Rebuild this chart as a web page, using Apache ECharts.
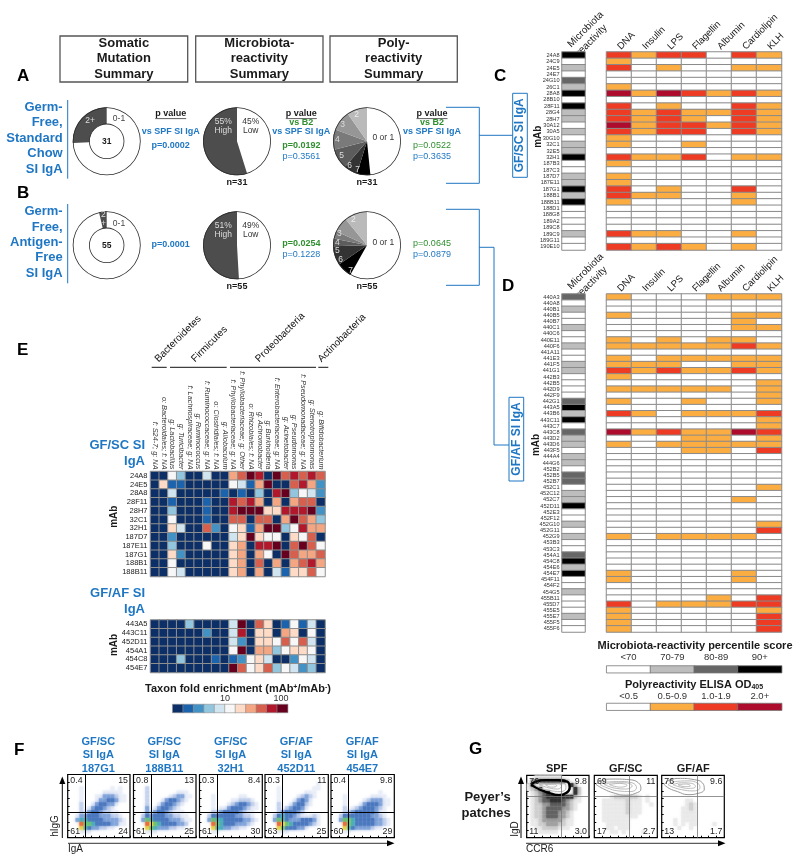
<!DOCTYPE html>
<html><head><meta charset="utf-8">
<style>html,body{margin:0;padding:0;background:#fff}#c{width:800px;height:862px}</style>
<script src="https://cdn.jsdelivr.net/npm/echarts@6/dist/echarts.min.js"></script>
</head><body><div id="c"></div>
<script>
const FONT='"Liberation Sans",Arial,sans-serif';
const BLUE='#1f77c4', GREEN='#2f8f2f', INK='#1a1a1a';

/* ---------- panels A and B: pies ---------- */
const mutationA=[['0-1',23],['2+',8]];
const mutationB=[['0-1',53],['2\n+',2]];
const microA=[['45%\nLow',14],['55%\nHigh',17]];
const microB=[['49%\nLow',27],['51%\nHigh',28]];
const polyA=[['0 or 1',15],['7',2],['6',2],['5',3],['4',3],['3',3],['2',3]];
const polyB=[['0 or 1',32],['7',4],['6',5],['5',2],['4',2],['3',4],['2',6]];
const polyShades=['#ffffff','#000000','#333333','#5c5c5c','#7a7a7a','#969696','#bababa'];

/* ---------- panel C ---------- */
const antigens=['DNA','Insulin','LPS','Flagellin','Albumin','Cardiolipin','KLH'];
const mabC=['24A8','24C9','24E5','24E7','24G10','26C1','28A8','28B10','28F11','28G4','28H7','30A12','30A5','30G10','32C1','32E5','32H1','187B3','187C3','187D7','187E11','187G1','188B1','188B11','188D1','188G8','189A2','189C8','189C9','189G11','190E10'];
const microC=[3,0,1,0,2,1,3,0,3,1,1,0,1,0,1,1,3,0,0,1,1,3,1,3,0,0,0,0,1,0,0];
const polyC=['2122021','1000000','2010011','0000000','0000000','1000000','3132121','0000000','2010021','2121121','2121021','3122121','2122021','1000000','1001000','0000000','2112011','1000000','0000000','1000000','1000000','2010020','2110010','1000010','0000000','0000000','0000000','0000000','2110010','0000000','2121010'];

/* ---------- panel D ---------- */
const mabD=['440A3','440A8','440B1','440B5','440B7','440C1','440C6','440E11','440F6','441A11','441E3','441F5','441G1','442B3','442B5','442D9','442F9','442G1','443A5','443B6','443C11','443C7','443C8','443D2','443D6','443F5','444A4','444G6','452B2','452B5','452B7','452C1','452C12','452C7','452D11','452E3','452F12','452G10','452G11','452G9','453B3','453C3','454A1','454C8','454E6','454E7','454F11','454F2','454G5','455B11','455D7','455E5','455E7','455F5','455F6'];
const microD=[2,0,1,0,0,1,0,0,1,0,0,1,1,0,0,0,0,2,3,1,3,0,2,1,1,0,1,1,0,2,2,0,1,1,3,0,0,1,0,1,0,0,2,3,1,3,0,0,1,0,0,0,1,0,0];
const polyD=['1000111','0000000','0000000','1000011','0000010','0000011','0000000','1010110','1111121','0000000','1011111','1110011','2121121','1000000','0000001','1111101','0000001','1001001','0000000','2101112','0000001','0000001','3121132','0001101','1011111','0001102','0000000','0000000','0000000','0000000','0000000','0000001','0000000','0000010','0000000','0000000','0000000','0000001','0000002','1011110','0000000','0000000','0000000','0000000','0000000','1000010','1000010','0000000','0000000','0000102','2011122','1000001','1000002','1000002','1000002'];

/* ---------- panel E ---------- */
const taxa=['f: S24-7; g: NA','o: Bacteroidales; f: NA','g: Lactobacillus','g: Turicibacter','f: Lachnospiraceae; g: NA','g: Ruminococcus','f: Ruminococcaceae; g: NA','o: Clostridiales; f: NA','g: Allobaculum','f: Phyllobacteriaceae; g: NA','f: Phyllobacteriaceae; g: Other','o: Rhizobiales; f: NA','g: Achromobacter','g: Burkholderia','f: Enterobacteriaceae; g: NA','g: Acinetobacter','g: Pseudomonas','f: Pseudomonadaceae; g: NA','g: Stenotrophomonas','g: Bifidobacterium'];
const mabE1=['24A8','24E5','28A8','28F11','28H7','32C1','32H1','187D7','187E11','187G1','188B1','188B11'];
const foldE1=[
[0,0,5,3,0,0,4,0,0,7,8,10,9,0,10,8,9,8,9,8],
[0,6,1,1,0,0,0,0,0,5,4,1,7,10,0,0,8,9,7,2],
[0,0,4,0,0,0,0,0,1,0,1,0,3,0,9,10,3,5,4,2],
[0,0,1,0,0,0,1,0,0,9,8,9,7,0,7,0,7,8,8,0],
[0,0,3,0,0,0,1,0,0,9,10,10,10,6,6,9,9,9,10,2],
[0,0,5,0,0,0,1,0,0,8,8,0,8,8,0,7,10,8,7,3],
[0,0,6,4,0,0,8,2,0,5,6,1,7,10,10,3,5,9,7,7],
[0,0,2,0,0,0,0,0,0,4,6,10,6,5,5,0,6,5,8,0],
[0,0,3,0,0,0,5,0,0,6,7,0,9,9,10,0,8,10,8,5],
[0,0,6,2,0,0,0,0,0,6,7,0,7,5,0,10,8,7,7,8],
[0,0,5,0,0,0,0,0,0,6,7,0,8,0,7,0,7,8,9,7],
[0,0,5,4,0,0,0,0,0,6,7,0,7,0,4,1,6,6,8,5]];
const mabE2=['443A5','443C11','452D11','454A1','454C8','454E7'];
const foldE2=[
[0,0,0,0,3,0,0,0,0,4,10,0,8,6,0,1,5,1,4,0],
[0,0,0,0,0,0,2,0,0,4,9,0,6,6,0,7,6,0,5,0],
[0,0,0,0,0,0,0,0,0,4,2,0,6,6,5,8,5,8,4,0],
[0,0,0,0,0,0,0,0,0,5,10,0,7,7,3,5,6,6,5,0],
[0,0,0,3,0,0,0,1,0,1,2,5,6,4,0,0,2,5,4,0],
[0,0,0,0,0,0,0,0,0,10,8,5,6,8,3,5,4,2,3,0]];
const taxonSteps=[0,1,2,3,4,5,6,7,8,9,10];
const taxonPalette=['#0b2f66','#1c63ad','#4292c6','#92c5de','#d1e5f0','#f7f7f7','#fddbc7','#f4a582','#d6604d','#b2182b','#67001f'];

/* ---------- legends C/D ---------- */
const microBands=['<70','70-79','80-89','90+'];
const polyBands=['<0.5','0.5-0.9','1.0-1.9','2.0+'];
const microPalette=['#ffffff','#bdbdbd','#666666','#000000'];
const polyPalette=['#ffffff','#fbad42','#ee3b24','#ad0c2c'];

/* ---------- panel F: density read cell by cell (16 x 16) ---------- */
const flowF1=['0000000000000000','0000000000000000','0000000000000000','0001000000010100','0001000001111100','0001000113332110','0001000133443110','0002001344331000','0002013443210000','0002134432211000','0013344433322100','0035544443333210','0008665444433110','0007543322110000','0001110000000000','0000000000000000'];
const flowF2=['0000000000000000','0000000000000000','0000000000000000','0002000000000000','0002000000011100','0002000001233110','0002000134432100','0002001344321000','0003013443210000','0003134432111000','0024344433221100','0036544443332110','0008765444433200','0007653332211000','0001110000000000','0000000000000000'];
const flowF3=['0000000000000000','0000000000000000','0000000000000000','0000000000000000','0000000000000000','0001000000110000','0001000011222100','0001000123443210','0001011344432110','0002234444321100','0024444443322100','0036554444433210','0008654443332100','0007553322110000','0001100000000000','0000000000000000'];
const flowF4=['0000000000000000','0000000000000000','0000000000000100','0001000000001100','0001000000111000','0001000012321000','0001000134310000','0002001344210000','0002023443100000','0002344432000000','0024544321112100','0036543334443100','0008765444432100','0007644433100000','0001110000000000','0000000000000000'];
const flowF5=['0000000000000000','0000000000000000','0000000000000000','0000000000000000','0000000000001000','0001000000111100','0001000012333110','0001000134443110','0002012344432100','0002234444431100','0024444444332100','0036654444433210','0008654444433210','0007543333211000','0001100000000000','0000000000000000'];
const flowTitlesF=[['GF/SC','SI IgA','187G1'],['GF/SC','SI IgA','188B11'],['GF/SC','SI IgA','32H1'],['GF/AF','SI IgA','452D11'],['GF/AF','SI IgA','454E7']];
const quadF=[['0.4','15','61','24'],['0.8','13','61','25'],['0.3','8.4','61','30'],['0.3','11','63','25'],['0.4','9.8','60','29']];
const flowColors=['#ffffff','#e8edf8','#c2d0ec','#7a9fd8','#3f6eba','#3ea6b8','#5dbe6a','#e6d23c','#e8602c'];

/* ---------- panel G: density and contours ---------- */
const flowG1=['0011111110000000','0345555554200000','1400000000052000','1235000000005200','0123450000005200','0123455555552100','0123445554321100','0122334444321000','0122344443321000','0122344433210000','0122344433210000','0112333332110000','0112233322110000','0011222211100000','0001111100000100','0000000000000000'];
const flowG2=['0000000000000000','0000000000000000','0000000000000000','0000000000000000','0000000000000000','0000122222210100','0011111121110100','0011111121110010','0011111121110000','0011111121110000','0011111111100000','0011111110000000','0001111110000000','0001101110000000','0000110100001000','0000000000000000'];
const flowG3=['0000000000000000','0000000000000000','0000000000000000','0000000000000000','0000000000000000','0000000000000000','0000001100000000','0000001210000000','0000011210000000','0000011110000000','0000011110000000','0001011110000000','0001010110000100','0000100100000000','0000000000000000','0000000000000000'];
const ringsG1=[
 [[7,85],[15,90],[30,92],[50,92],[65,90],[69,80],[64,72],[52,68],[35,72],[20,78],[7,85]],
 [[12,85],[25,89],[45,89],[60,87],[63,80],[55,74],[35,76],[20,80],[12,85]],
 [[20,85],[35,87],[50,87],[56,83],[50,78],[35,80],[20,85]],
 [[30,85],[45,86],[48,83],[40,81],[30,85]]];
const ringsG2=[
 [[3,85],[10,91],[30,94],[55,93],[70,88],[74,78],[65,71],[50,68],[30,72],[15,78],[3,85]],
 [[9,85],[20,89],[42,90],[60,88],[67,80],[58,74],[38,75],[20,80],[9,85]],
 [[16,85],[30,88],[48,88],[60,83],[50,78],[35,79],[16,85]],
 [[24,85],[40,87],[52,84],[42,81],[24,85]]];
const ringsG3=[
 [[4,85],[12,92],[30,95],[52,93],[65,88],[68,78],[58,71],[42,69],[25,74],[12,79],[4,85]],
 [[10,85],[22,90],[42,91],[58,87],[61,80],[50,75],[32,77],[18,81],[10,85]],
 [[18,85],[32,88],[48,87],[54,82],[44,79],[30,81],[18,85]],
 [[26,85],[40,86],[46,83],[36,82],[26,85]]];
const titlesG=['SPF','GF/SC','GF/AF'];
const quadG=[['76','9.8','11','3.0'],['69','11','17','2.7'],['76','9.6','13','1.7']];
const grayColors=['#ffffff','#e8e8e8','#cccccc','#9a9a9a','#585858','#222222'];

/* ---------- option assembly ---------- */
const grid=[],xAxis=[],yAxis=[],series=[],graphic=[];
const microIdx=[],polyIdx=[],taxonIdx=[];
function addGrid(l,t,w,h,xa,ya,g){
  grid.push(Object.assign({left:l,top:t,width:w,height:h},g||{}));
  xAxis.push(Object.assign({gridIndex:grid.length-1},xa));
  yAxis.push(Object.assign({gridIndex:grid.length-1},ya));
  return grid.length-1;
}
function catAxis(data,pos,label,extra){
  return Object.assign({type:'category',data,position:pos,axisLine:{show:false},axisTick:{show:false},splitLine:{show:false},
    axisLabel:label?Object.assign({show:true,interval:0,color:INK},label):{show:false}},extra||{});
}
function heat(gi,rows,store,border,bw){
  const d=[];rows.forEach((r,y)=>r.forEach((v,x)=>d.push([x,y,v])));
  store.push(series.length);
  series.push({type:'heatmap',xAxisIndex:gi,yAxisIndex:gi,data:d,itemStyle:{borderColor:border,borderWidth:bw},emphasis:{disabled:true},silent:true,progressive:0});
}
const digits=s=>s.split('').map(Number);

// Panel C/D
function panel(top,h,labels,micro,poly){
  const yLabel={fontSize:5.6,margin:2.5,color:'#333'};
  const g1=addGrid(562,top,23,h,catAxis(['Microbiota\nreactivity'],'top',{rotate:-45,fontSize:10,margin:2,lineHeight:12}),
    catAxis(labels,'left',yLabel,{inverse:true}));
  heat(g1,micro.map(v=>[v]),microIdx,'#8a8a8a',1);
  const g2=addGrid(606.5,top,175,h,catAxis(antigens,'top',{rotate:-45,fontSize:9.6,margin:4}),
    catAxis(labels,'left',null,{inverse:true}));
  heat(g2,poly.map(digits),polyIdx,'#8a8a8a',1);
}
panel(52,198,mabC,microC,polyC);
panel(294,338,mabD,microD,polyD);

// Panel E
const e1=addGrid(150.5,471.5,174.5,105,catAxis(taxa,'top',{rotate:90,fontSize:7.3,margin:2,fontStyle:'italic',color:'#333'}),
  catAxis(mabE1,'left',{fontSize:7.5,margin:3},{inverse:true}));
heat(e1,foldE1,taxonIdx,'#8f8f8f',1);
const e2=addGrid(150.5,620,174.5,52.5,catAxis(taxa,'top'),catAxis(mabE2,'left',{fontSize:7.5,margin:3},{inverse:true}));
heat(e2,foldE2,taxonIdx,'#8f8f8f',1);

// Legends
const l1=addGrid(172.7,704.5,115,8,catAxis(taxonSteps.map(String),'bottom'),catAxis(['s'],'left'));
heat(l1,[taxonSteps],taxonIdx,'#8f8f8f',0.6);
const l2=addGrid(606.7,666,175,6.7,catAxis(microBands,'top',{fontSize:9.5,margin:4,color:'#333'}),catAxis(['s'],'left'));
heat(l2,[[0,1,2,3]],microIdx,'#777',0.8);
const l3=addGrid(606.7,703.5,175,6.7,catAxis(polyBands,'top',{fontSize:9.5,margin:2,color:'#333'}),catAxis(['s'],'left'));
heat(l3,[[0,1,2,3]],polyIdx,'#777',0.8);

// Flow panels
function flow(l,t,w,h,rows,colors,size,blur,xCut,yCut,cutColor,cutWidth,rings,ringColor){
  const axis={type:'value',min:0,max:100,interval:12.5,axisLabel:{show:false},splitLine:{show:false},
    axisLine:{show:false},axisTick:{show:true,inside:true,length:2,lineStyle:{color:'#000',width:1}}};
  const gi=addGrid(l,t,w,h,Object.assign({position:'bottom'},axis),Object.assign({position:'left'},axis),
    {show:true,borderColor:'#000',borderWidth:1.2,backgroundColor:'#fff'});
  const pts=[];
  rows.forEach((r,y)=>digits(r).forEach((v,x)=>{ if(v) pts.push({value:[(x+0.5)*100/16,100-(y+0.5)*100/16,v],itemStyle:{color:colors[v],shadowColor:colors[v],shadowBlur:blur}}); }));
  pts.sort((a,b)=>a.value[2]-b.value[2]);
  series.push({type:'scatter',xAxisIndex:gi,yAxisIndex:gi,data:pts,symbol:'rect',symbolSize:size,silent:true,
    markLine:{silent:true,symbol:'none',label:{show:false},animation:false,lineStyle:{color:cutColor,type:'solid',width:cutWidth},data:[{xAxis:xCut},{yAxis:yCut}]}});
  (rings||[]).forEach((r,i)=>series.push({type:'line',xAxisIndex:gi,yAxisIndex:gi,data:r,smooth:.5,showSymbol:false,silent:true,z:3,
    lineStyle:{color:i===0?ringColor[0]:ringColor[1],width:i===0?ringColor[2]:.8}}));
  return gi;
}
const fBoxes=[[67.7,62.3],[133.5,62.5],[199.5,62.8],[265,63.3],[331,63.3]];
[flowF1,flowF2,flowF3,flowF4,flowF5].forEach((rows,i)=>flow(fBoxes[i][0],774.5,fBoxes[i][1],63.2,rows,flowColors,3.9,3,28,41,'#000',1));
const gBoxes=[[526.7,62.3],[594.3,63],[661.7,62.6]];
[flowG1,flowG2,flowG3].forEach((rows,i)=>flow(gBoxes[i][0],775.3,gBoxes[i][1],62.4,rows,grayColors,3.9,3,56,67,'#777',.8,[ringsG1,ringsG2,ringsG3][i],i===0?['#000','#aaa',2.4]:['#999','#aaa',1]));

// Pies
function pie(cx,cy,inner,values,colors,textColors,spots){
  const data=values.map((v,i)=>({name:v[0],value:v[1],itemStyle:{color:colors[i]},label:{color:textColors[i]}}));
  series.push({type:'pie',center:[cx,cy],radius:[inner,34],startAngle:90,clockwise:true,silent:true,avoidLabelOverlap:false,animation:false,
    data,labelLine:{show:false},label:{show:true,position:'inside',formatter:'{b}',fontSize:8.5,lineHeight:9},
    labelLayout:p=>({x:cx+spots[p.dataIndex][0],y:cy+spots[p.dataIndex][1]})});
  [[33.2,34]].concat(inner?[[inner-.4,inner+.4]]:[]).forEach(r=>series.push({type:'pie',center:[cx,cy],radius:r,silent:true,animation:false,label:{show:false},labelLine:{show:false},data:[{value:1,itemStyle:{color:'#2a2a2a'}}]}));
}
const cyA=141.3,cyB=245.3;
pie(106.7,cyA,17.3,mutationA,['#ffffff','#4d4d4d'],['#444','#ddd'],[[12.3,-22.3],[-16.7,-20.3]]);
pie(106.7,cyB,17.3,mutationB,['#ffffff','#4d4d4d'],['#444','#ddd'],[[12.3,-21.3],[-3.3,-26]]);
pie(237,cyA,0,microA,['#ffffff','#4d4d4d'],['#333','#ddd'],[[13.7,-15.3],[-13.7,-15.3]]);
pie(237,cyB,0,microB,['#ffffff','#4d4d4d'],['#333','#ddd'],[[13.7,-15.3],[-13.7,-15.3]]);
const polyText=['#333','#ddd','#ddd','#ddd','#ddd','#ddd','#eee'];
pie(367,cyA,0,polyA,polyShades,polyText,[[16.3,-3.7],[-9.3,28.3],[-17.3,24.3],[-25.3,14.7],[-29.7,-2],[-24.3,-16.3],[-10.3,-27]]);
pie(367,cyB,0,polyB,polyShades,polyText,[[16.3,-3],[-16.3,25.3],[-26.3,14.7],[-29.7,5.3],[-29.7,-3],[-27.7,-11.7],[-13.7,-25.3]]);

// Text & rules
function T(text,x,y,size,o){o=o||{};
  const st={text,x:0,y:0,font:(o.bold?'bold ':'')+size+'px '+FONT,fill:o.color||INK,textAlign:o.align||'center',textVerticalAlign:o.v||'middle'};
  if(o.rich) st.rich=o.rich;
  graphic.push({type:'text',x,y,rotation:o.rot||0,silent:true,z:50,style:st});
}
function L(pts,color,w){graphic.push({type:'polyline',silent:true,z:40,shape:{points:pts},style:{fill:'none',stroke:color,lineWidth:w}});}
function box(x,y,w,h,color,lw){graphic.push({type:'rect',silent:true,z:40,shape:{x,y,width:w,height:h},style:{fill:'none',stroke:color,lineWidth:lw}});}
function tri(pts){graphic.push({type:'polygon',silent:true,z:40,shape:{points:pts},style:{fill:'#000'}});}

[[60,127.7,['Somatic','Mutation','Summary']],[195.7,127.3,['Microbiota-','reactivity','Summary']],[330,127.3,['Poly-','reactivity','Summary']]].forEach(b=>{
  box(b[0],36,b[1],46,'#555',1.3);
  b[2].forEach((s,i)=>T(s,b[0]+b[1]/2,43+i*15.5,13,{bold:true}));
});
[['A',17,76],['B',17,193],['C',494,76],['D',502,286],['E',17,350],['F',14,750],['G',469,749]].forEach(a=>T(a[0],a[1],a[2],17,{bold:true,align:'left',color:'#000'}));
['Germ-','Free,','Standard','Chow','SI IgA'].forEach((s,i)=>T(s,62.7,107.3+i*15.5,13,{bold:true,color:BLUE,align:'right'}));
['Germ-','Free,','Antigen-','Free','SI IgA'].forEach((s,i)=>T(s,62.7,211.7+i*15.4,13,{bold:true,color:BLUE,align:'right'}));
L([[67.7,100],[67.7,178.7]],BLUE,1);L([[67.7,204],[67.7,283.3]],BLUE,1);
T('31',106.7,cyA,8.5,{bold:true});T('55',106.7,cyB,8.5,{bold:true});
[[237,31,182.7],[367,31,182.7],[237,55,287],[367,55,287]].forEach(n=>T('n='+n[1],n[0],n[2],9,{bold:true}));
function pHead(x,b2){
  T('p value',x,113.7,9,{bold:true});L([[x-15.5,118.6],[x+15.5,118.6]],INK,.7);
  if(b2)T('vs B2',x,123,9,{bold:true,color:GREEN});
  T('vs SPF SI IgA',x,132,9,{bold:true,color:BLUE});
}
pHead(170.7,false);pHead(301.3,true);pHead(432,true);
T('p=0.0002',170.7,145.7,9,{bold:true,color:BLUE});T('p=0.0001',170.7,245,9,{bold:true,color:BLUE});
T('p=0.0192',301.3,145.7,9,{bold:true,color:GREEN});T('p=0.3561',301.3,156.7,9,{color:BLUE});
T('p=0.0254',301.3,244,9,{bold:true,color:GREEN});T('p=0.1228',301.3,254.7,9,{color:BLUE});
T('p=0.0522',432,145.7,9,{color:GREEN});T('p=0.3635',432,156.7,9,{color:BLUE});
T('p=0.0645',432,244,9,{color:GREEN});T('p=0.0879',432,254.7,9,{color:BLUE});
L([[446,107.3],[479.3,107.3],[479.3,183.3],[446,183.3]],BLUE,1);L([[479.3,135.3],[512.7,135.3]],BLUE,1);
L([[446,209.3],[479.3,209.3],[479.3,285.3],[446,285.3]],BLUE,1);L([[479.3,247.3],[494,247.3],[494,445],[509,445]],BLUE,1);
box(512.7,93.3,14.6,84,BLUE,1);T('GF/SC SI IgA',520,135.3,12,{bold:true,color:BLUE,rot:Math.PI/2});
box(509,397.3,14.7,83.7,BLUE,1);T('GF/AF SI IgA',516.4,439,12,{bold:true,color:BLUE,rot:Math.PI/2});
T('mAb',538,136.7,10,{bold:true,rot:Math.PI/2});T('mAb',536,445,10,{bold:true,rot:Math.PI/2});
T('mAb',114.3,516.7,10,{bold:true,rot:Math.PI/2});T('mAb',114.3,645,10,{bold:true,rot:Math.PI/2});
T('GF/SC SI',145,445,13,{bold:true,color:BLUE,align:'right'});T('IgA',145,461.7,13,{bold:true,color:BLUE,align:'right'});
T('GF/AF SI',145,593,13,{bold:true,color:BLUE,align:'right'});T('IgA',145,609,13,{bold:true,color:BLUE,align:'right'});
[['Bacteroidetes',160,364,151.7,166.7],['Firmicutes',196.7,364,170,226.7],['Proteobacteria',260.7,364,230,316],['Actinobacteria',323,364,318.3,328.3]].forEach(p=>{
  T(p[0],p[1],p[2],10,{align:'left',v:'bottom',rot:Math.PI/4,color:'#111'});
  L([[p[3],367.3],[p[4],367.3]],'#111',1);
});
T('Taxon fold enrichment (mAb{s|+}/mAb{s|-})',238,689,11,{bold:true,rich:{s:{font:'bold 7px '+FONT,fill:INK,verticalAlign:'top'}}});
T('10',225,698.5,9,{color:'#333'});T('100',281,698.5,9,{color:'#333'});
T('Microbiota-reactivity percentile score',695,645.7,11,{bold:true});
T('Polyreactivity ELISA OD{s|405}',694,685,11,{bold:true,rich:{s:{font:'bold 7px '+FONT,fill:INK,verticalAlign:'bottom'}}});

// flow text
const titleXF=[98.3,164.3,230.7,296.3,362.3];
flowTitlesF.forEach((t,i)=>t.forEach((s,j)=>T(s,titleXF[i],742+j*13.3,11,{bold:true,color:BLUE})));
function quad(q,l,t,w,h){
  T(q[0],l+2.6,t+6,8.8,{align:'left',color:'#222'});T(q[1],l+w-2,t+6,8.8,{align:'right',color:'#222'});
  T(q[2],l+2.6,t+h-6.5,8.8,{align:'left',color:'#222'});T(q[3],l+w-2,t+h-6.5,8.8,{align:'right',color:'#222'});
}
fBoxes.forEach((b,i)=>quad(quadF[i],b[0],774.5,b[1],63.2));
gBoxes.forEach((b,i)=>quad(quadG[i],b[0],775.3,b[1],62.4));
T('hIgG',55,826,10,{rot:Math.PI/2,color:'#222'});T('IgA',68,849,10,{align:'left',color:'#222'});
L([[62.3,838],[62.3,782]],'#000',1);tri([[62.3,776.5],[59.3,784],[65.3,784]]);
L([[68,843.3],[388,843.3]],'#333',1);tri([[394.5,843.3],[387,840.3],[387,846.3]]);
[556.7,625.7,693.3].forEach((x,i)=>T(titlesG[i],x,768.7,11,{bold:true}));
T('Peyer\u2019s',510.7,797.7,13,{bold:true,align:'right'});T('patches',510.7,813.3,13,{bold:true,align:'right'});
T('IgD',515,829,10,{rot:Math.PI/2,color:'#222'});T('CCR6',526,849,10,{align:'left',color:'#222'});
L([[521,838],[521,782]],'#000',1);tri([[521,776.5],[518,784],[524,784]]);
L([[526,843.3],[720,843.3]],'#333',1);tri([[725.5,843.3],[718,840.3],[718,846.3]]);

const piecesOf=p=>p.map((color,value)=>({value,color}));
const option={animation:false,backgroundColor:'#fff',textStyle:{fontFamily:FONT},grid,xAxis,yAxis,series,graphic:{elements:graphic},
  tooltip:{show:false},
  visualMap:[
   {type:'piecewise',show:false,dimension:2,seriesIndex:microIdx,pieces:piecesOf(microPalette)},
   {type:'piecewise',show:false,dimension:2,seriesIndex:polyIdx,pieces:piecesOf(polyPalette)},
   {type:'piecewise',show:false,dimension:2,seriesIndex:taxonIdx,pieces:piecesOf(taxonPalette)}]};
echarts.init(document.getElementById('c'),null,{renderer:'canvas'}).setOption(option);
</script></body></html>
